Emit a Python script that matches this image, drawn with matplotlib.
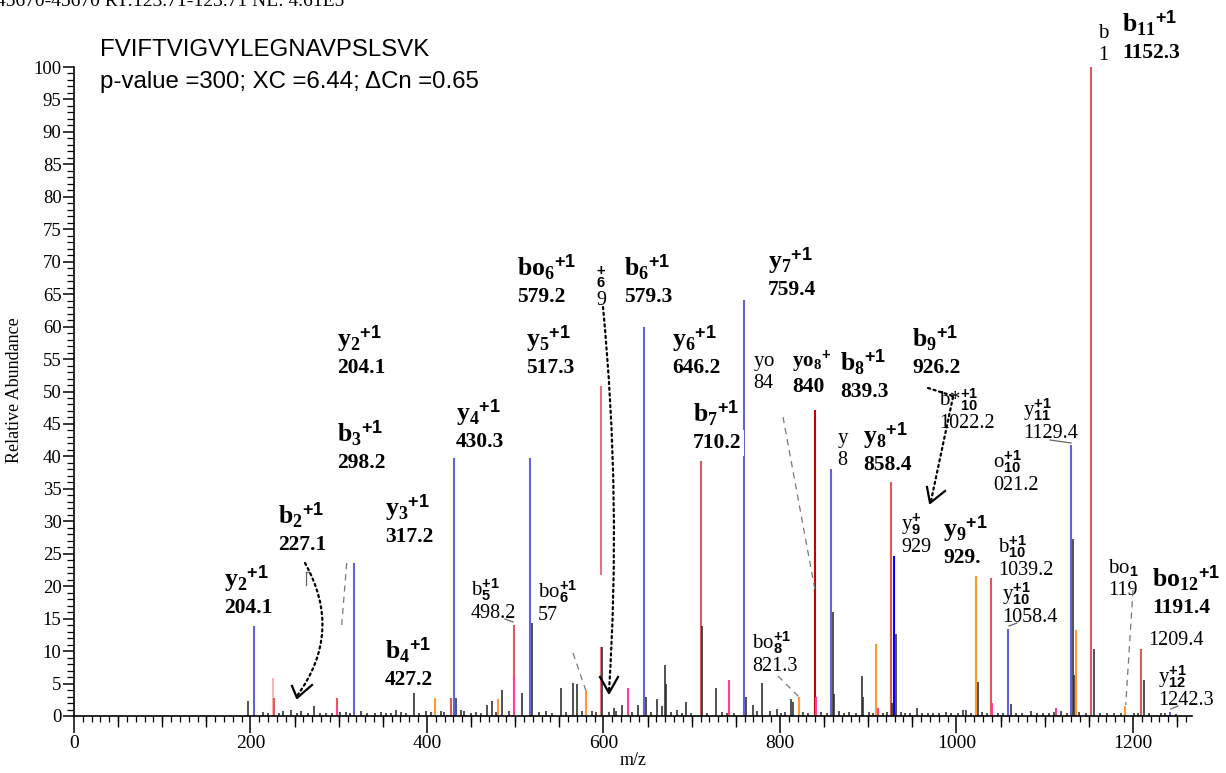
import matplotlib
matplotlib.use('Agg')
import matplotlib.pyplot as plt
from matplotlib.lines import Line2D
from matplotlib.patches import FancyArrowPatch, Rectangle
from matplotlib.ticker import MultipleLocator

plt.rcParams['mathtext.fontset'] = 'custom'
plt.rcParams['mathtext.rm'] = 'Liberation Serif'
plt.rcParams['mathtext.bf'] = 'Liberation Serif:bold'
plt.rcParams['mathtext.sf'] = 'Liberation Sans:bold'
plt.rcParams['mathtext.it'] = 'Liberation Serif:italic'
plt.rcParams['font.family'] = ['Liberation Serif', 'DejaVu Serif']

# ---------------- data ----------------
header_text = "45670-45670 RT:123.71-123.71 NL: 4.61E5"
sequence = "FVIFTVIGVYLEGNAVPSLSVK"
score_text = "p-value =300; XC =6.44; \u0394Cn =0.65"

y_mz = [204.1, 317.2, 430.3, 517.3, 646.2, 759.4, 858.4, 1058.4, 1129.4, 1242.3]
y_int = [13.9, 23.6, 39.7, 39.7, 59.9, 64.1, 38.0, 13.9, 42.0, 1.0]
y_dark_mz = [929.3]
y_dark_int = [24.7]
slate_mz = [432.5]
slate_int = [2.8]

b_mz = [227.1, 298.2, 427.2, 498.2, 710.2, 926.2, 1039.2, 1152.3, 1209.4]
b_int = [2.8, 2.8, 2.8, 14.5, 39.3, 36.1, 21.2, 100.0, 10.4]
b_light_mz = [597.3]
b_light_int = [50.9]
b_dark_mz = [839.3]
b_dark_int = [47.1]
faded_mz = [225.6]
faded_int = [5.9]

pink_mz = [298.6, 498.6, 628.2, 742.0, 840.6, 911.2, 1040.2, 1112.9]
pink_int = [1.5, 6.1, 4.3, 5.5, 3.0, 1.3, 2.0, 1.3]

orange_mz = [408.8, 480.2, 579.9, 821.3, 908.9, 1021.9, 1135.2, 1191.4]
orange_int = [2.8, 2.6, 4.0, 2.9, 11.1, 21.6, 13.2, 1.5]

noise_mz = [196.1, 213.0, 219.5, 231.0, 236.0, 245.0, 252.0, 257.0, 264.0, 271.0,
            278.0, 285.0, 292.0, 300.5, 307.0, 312.0, 324.0, 331.0, 340.0, 347.0,
            353.0, 358.0, 364.0, 369.5, 375.0, 384.2, 390.0, 398.0, 404.0, 415.0,
            419.0, 438.0, 441.0, 449.0, 455.0, 461.0, 467.7, 472.6, 478.0, 484.0,
            491.8, 507.4, 518.0, 526.0, 534.0, 541.0, 550.8, 557.0, 565.2, 569.0,
            575.0, 586.5, 591.0, 598.0, 605.0, 611.2, 614.0, 620.7, 632.0, 638.0,
            647.6, 653.0, 660.4, 665.6, 668.6, 670.1, 676.0, 683.0, 688.0, 692.4,
            698.0, 711.3, 717.0, 726.8, 734.0, 739.0, 747.0, 761.2, 768.7, 773.0,
            779.3, 788.0, 796.3, 800.5, 805.0, 811.4, 814.0, 825.0, 831.0, 846.0,
            852.0, 859.0, 860.5, 866.0, 872.0, 878.0, 885.0, 892.7, 893.8, 900.0,
            905.0, 916.0, 921.0, 926.6, 930.8, 936.0, 941.0, 947.0, 954.2, 960.0,
            967.0, 973.0, 980.0, 987.0, 993.0, 1001.0, 1006.3, 1009.7, 1016.0, 1023.3,
            1028.0, 1034.0, 1046.0, 1052.0, 1060.7, 1067.0, 1074.0, 1083.4, 1090.0, 1097.0,
            1104.0, 1110.0, 1117.4, 1124.0, 1131.4, 1132.5, 1138.0, 1146.0, 1155.2, 1162.0,
            1170.0, 1178.0, 1186.0, 1200.0, 1205.0, 1211.9, 1218.0, 1230.7, 1236.0, 1248.0]
noise_int = [2.3, 0.6, 0.4, 0.5, 0.7, 0.9, 0.5, 0.8, 0.4, 1.6,
             0.5, 0.5, 0.4, 0.6, 0.6, 0.5, 0.8, 0.5, 0.4, 0.6,
             0.5, 0.4, 0.9, 0.6, 0.5, 3.7, 0.5, 0.7, 0.6, 0.8,
             0.6, 0.9, 0.7, 0.5, 0.6, 0.4, 1.7, 2.3, 0.6, 4.0,
             0.7, 3.5, 14.3, 0.6, 0.8, 0.5, 4.3, 0.6, 5.1, 5.0,
             0.7, 0.8, 0.6, 10.7, 0.6, 1.2, 0.8, 1.7, 0.6, 1.7,
             2.9, 0.6, 2.6, 1.5, 7.9, 5.0, 0.6, 1.0, 0.5, 2.1,
             0.4, 13.9, 0.5, 4.3, 0.6, 0.4, 0.5, 2.9, 1.7, 0.7,
             5.1, 0.7, 1.1, 0.5, 0.6, 2.6, 2.2, 0.6, 0.5, 0.6,
             0.5, 16.1, 3.4, 0.8, 0.5, 0.6, 0.5, 6.1, 2.9, 0.6,
             0.5, 0.5, 0.6, 2.0, 12.6, 0.6, 0.5, 0.4, 1.3, 0.5,
             0.4, 0.5, 0.4, 0.6, 0.5, 0.4, 1.0, 0.9, 0.5, 5.3,
             0.6, 0.5, 0.5, 0.4, 1.8, 0.5, 0.4, 0.8, 0.5, 0.4,
             0.5, 0.6, 0.8, 0.5, 27.2, 6.3, 0.6, 0.4, 10.4, 0.5,
             0.4, 0.4, 0.5, 0.4, 0.5, 5.5, 0.4, 0.5, 0.4, 0.3]

# big (bold) ion labels: ion, subscript, superscript, m/z text
big_ions = ["y", "b", "y", "b", "y", "y", "b", "y", "bo", "b", "y", "b", "y", "yo", "b", "y", "b", "y", "bo", "b"]
big_subs = ["2", "2", "2", "3", "3", "4", "4", "5", "6", "6", "6", "7", "7", "8", "8", "8", "9", "9", "12", "11"]
big_sups = ["+1"] * 13 + ["+"] + ["+1"] * 6
big_vals = ["204.1", "227.1", "204.1", "298.2", "317.2", "430.3", "427.2", "517.3", "579.2", "579.3",
            "646.2", "710.2", "759.4", "840", "839.3", "858.4", "926.2", "929.", "1191.4", "1152.3"]
# small ion labels (visible text)
small_ions = ["b", "bo", "bo", "yo", "y", "b*", "y", "o", "y", "b", "y", "bo", "", "y", "b", ""]
small_subs = ["5", "6", "8", "", "", "10", "11", "10", "9", "10", "10", "1", "", "12", "", "6"]
small_sups = ["+1", "+1", "+1", "", "", "+1", "+1", "+1", "+", "+1", "+1", "", "", "+1", "", "+"]
small_vals = ["498.2", "57", "821.3", "84", "8", "1022.2", "1129.4", "021.2", "929", "1039.2",
              "1058.4", "119", "1209.4", "1242.3", "1", "9"]

# ---------------- layout (pixels) ----------------
W, H = 1226, 773
X0, X1, YB, YT = 74, 1192, 716, 67
big_pos = [(224, 613), (278, 550), (337, 373), (337, 468), (385, 542), (456, 447), (385, 685),
           (526, 373), (517, 302), (624, 302), (672, 373), (693, 448), (768, 295), (792, 392),
           (840, 397), (863, 470), (912, 373), (943, 563), (1152, 613), (1122, 58)]
small_pos = [(471, 618), (538, 620), (752, 671), (753, 388), (837, 465), (939, 428), (1023, 438),
             (993, 490), (901, 552), (998, 575), (1002, 622), (1108, 595), (1148, 645),
             (1158, 705), (1098, 60), (596, 305)]

def F(px, py):
    return (px / W, 1 - py / H)

fig = plt.figure(figsize=(W / 100, H / 100), dpi=100)
ax = fig.add_axes([X0 / W, (H - YB) / H, (X1 - X0) / W, (YB - YT) / H])
ax.set_xlim(0, (X1 - X0) / 0.8824)
ax.set_ylim(0, 100)

lw = 1.5
ax.vlines(faded_mz, 0, faded_int, colors='#ffb4b4', lw=lw)
ax.vlines(b_light_mz, 0, b_light_int, colors='#e07a7a', lw=lw)
ax.vlines(b_mz, 0, b_int, colors='#dc5a5a', lw=lw)
ax.vlines(b_dark_mz, 0, b_dark_int, colors='#c40000', lw=lw)
ax.vlines(y_mz, 0, y_int, colors='#6262dc', lw=lw)
ax.vlines(y_dark_mz, 0, y_dark_int, colors='#0000ff', lw=lw)
ax.vlines(slate_mz, 0, slate_int, colors='#4a5a8a', lw=lw)
ax.vlines(orange_mz, 0, orange_int, colors='#ff9a30', lw=lw)
ax.vlines(pink_mz, 0, pink_int, colors='#ff3c96', lw=lw)
ax.vlines([m + 0.8 for m in noise_mz], 0, noise_int, colors='#333333', lw=1.2)

for s in ['top', 'right']:
    ax.spines[s].set_visible(False)
for s in ['left', 'bottom']:
    ax.spines[s].set_linewidth(1.2)
ax.xaxis.set_major_locator(MultipleLocator(200))
ax.xaxis.set_minor_locator(MultipleLocator(10))
ax.yaxis.set_major_locator(MultipleLocator(5))
ax.yaxis.set_minor_locator(MultipleLocator(1))
ax.tick_params(axis='x', which='major', length=12, width=1.1, labelsize=14, pad=2)
ax.tick_params(axis='x', which='minor', length=4, width=0.9)
ax.tick_params(axis='y', which='major', length=8, width=1.1, labelsize=13.5, pad=1)
ax.tick_params(axis='y', which='minor', length=5, width=0.9)
sec = ax.secondary_xaxis('bottom')
sec.set_xticks([v for v in range(50, 1300, 50) if v % 200])
sec.tick_params(length=8, width=1.0, labelbottom=False)
sec.spines['bottom'].set_visible(False)
ax.set_xlabel('m/z', fontsize=13, labelpad=0)

fig.text(15 / W, 1 - 390 / H, 'Relative Abundance', rotation=90, ha='center', va='center', fontsize=13)
fig.text(-4 / W, 1 - 2 / H, header_text, ha='left', va='center', fontsize=14)
fig.text(100 / W, 1 - 50 / H, sequence, family='Liberation Sans', fontsize=17.3, ha='left', va='center')
fig.text(100 / W, 1 - 82 / H, score_text, family='Liberation Sans', fontsize=17.3, ha='left', va='center')

box = dict(facecolor='white', edgecolor='none', boxstyle='square,pad=0.12')

# white cover (hidden label region)
fig.add_artist(Rectangle(F(561, 647), 44 / W, 72 / H, transform=fig.transFigure,
                         facecolor='white', edgecolor='none', zorder=2.9))

for ion, sub, sup, val, (px, py) in zip(small_ions, small_subs, small_sups, small_vals, small_pos):
    name = ''
    if ion:
        name += r'\mathrm{%s}' % ion.replace('*', '}{*}\mathrm{')
    if sub:
        name += r'_{\mathsf{%s}}' % sub
    if sup:
        name += (r'^{\mathsf{%s}}' % sup) if sub else (r'{}^{\mathsf{%s}}' % sup)
    if name:
        fig.text(*F(px, py - 22), '$' + name.replace(r'\mathrm{}', '') + '$', fontsize=15,
                 ha='left', va='baseline', bbox=box, zorder=3)
    fig.text(*F(px, py), val, fontsize=14.5, ha='left', va='baseline', bbox=box, zorder=3)

for ion, sub, sup, val, (px, py) in zip(big_ions, big_subs, big_sups, big_vals, big_pos):
    small = ion == 'yo'
    name = r'$\mathbf{%s}_{\mathbf{%s}}{}^{\mathsf{%s}}$' % (ion, sub, sup)
    fig.text(*F(px, py - 26), name, fontsize=15 if small else 18.5, ha='left', va='baseline',
             bbox=box, zorder=3.2)
    fig.text(*F(px, py), val, fontsize=15.5, fontweight='bold', ha='left', va='baseline',
             bbox=box, zorder=3.2)

# leader lines
dashed = [((346.7, 563), (341.7, 625)), ((573, 653), (585.7, 690)), ((783, 417), (815, 590)),
          ((778, 676), (799, 697)), ((1133, 590), (1125.7, 705))]
solid = [((505, 619), (513, 622)), ((1050, 440), (1071, 443)), ((1009, 626), (1017, 623)),
         ((1171, 709), (1178, 706)), ((309, 572), (306, 572)), ((306, 572), (306, 585))]
for (a, b) in dashed:
    fig.add_artist(Line2D([a[0] / W, b[0] / W], [1 - a[1] / H, 1 - b[1] / H], transform=fig.transFigure,
                          color='#777777', lw=0.9, ls=(0, (5, 4)), zorder=3.5))
for (a, b) in solid:
    fig.add_artist(Line2D([a[0] / W, b[0] / W], [1 - a[1] / H, 1 - b[1] / H], transform=fig.transFigure,
                          color='#666666', lw=0.9, zorder=3.5))

# dotted arrows
curves = [((305, 563), (297, 696), 'arc3,rad=-0.32'),
          ((603, 307), (609, 691), 'arc3,rad=-0.04'),
          ((928, 388), (953, 396), 'arc3,rad=0.0'),
          ((953, 397), (931, 501), 'arc3,rad=0.0')]
for a, b, cs in curves:
    fig.add_artist(FancyArrowPatch(F(*a), F(*b), transform=fig.transFigure, arrowstyle='-',
                                   connectionstyle=cs, linestyle=(0, (1, 1.6)), lw=1.6,
                                   color='black', zorder=4, shrinkA=0, shrinkB=0))
heads = [[(292, 686), (297, 698), (312, 685)],
         [(600, 677), (609, 693), (618, 677)],
         [(927, 487), (930, 503), (945, 491)]]
for hd in heads:
    fig.add_artist(Line2D([p[0] / W for p in hd], [1 - p[1] / H for p in hd], transform=fig.transFigure,
                          color='black', lw=1.6, zorder=4))

fig.savefig('out.png', dpi=100)
